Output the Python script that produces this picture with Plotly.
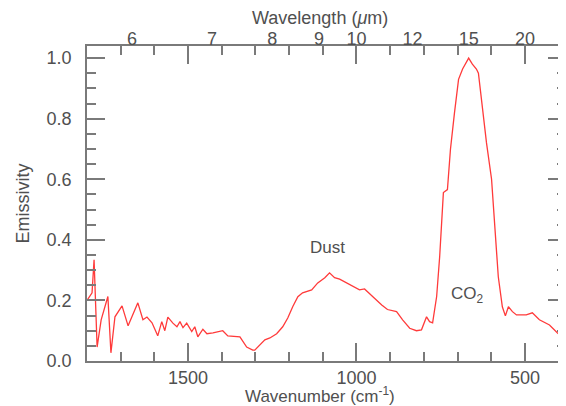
import plotly.graph_objects as go

# Wavenumber (cm^-1) and emissivity
wavenumber = [1800, 1785, 1779, 1770, 1758, 1738, 1729, 1717, 1696, 1678, 1649, 1634, 1622, 1607,
              1590, 1578, 1569, 1560, 1545, 1533, 1524, 1515, 1504, 1489, 1480, 1471, 1456, 1444,
              1426, 1412, 1397, 1382, 1361, 1346, 1326, 1308, 1302, 1287, 1272, 1257, 1237, 1219,
              1204, 1189, 1174, 1160, 1133, 1115, 1094, 1080, 1065, 1050, 1020, 991, 976, 952,
              925, 908, 881, 863, 842, 822, 807, 792, 783, 774, 762, 753, 742, 730, 721, 709,
              697, 685, 676, 667, 656, 644, 638, 626, 614, 599, 590, 579, 567, 558, 549, 537,
              525, 496, 478, 457, 427, 404, 380]
emissivity = [0.200, 0.225, 0.334, 0.046, 0.136, 0.213, 0.027, 0.146, 0.182, 0.116, 0.192, 0.136,
              0.145, 0.126, 0.083, 0.130, 0.100, 0.145, 0.125, 0.113, 0.130, 0.110, 0.125, 0.097,
              0.113, 0.080, 0.105, 0.090, 0.093, 0.097, 0.100, 0.083, 0.080, 0.080, 0.046, 0.036,
              0.036, 0.053, 0.070, 0.076, 0.090, 0.113, 0.142, 0.180, 0.212, 0.225, 0.235, 0.258,
              0.275, 0.291, 0.275, 0.270, 0.252, 0.235, 0.238, 0.212, 0.185, 0.170, 0.163, 0.136,
              0.108, 0.100, 0.103, 0.146, 0.130, 0.126, 0.213, 0.345, 0.556, 0.566, 0.699, 0.820,
              0.930, 0.964, 0.980, 1.000, 0.980, 0.964, 0.950, 0.830, 0.720, 0.600, 0.444, 0.278,
              0.179, 0.149, 0.179, 0.163, 0.152, 0.152, 0.159, 0.136, 0.119, 0.093, 0.070]

wavelength_ticks = [6, 7, 8, 9, 10, 12, 15, 20]
wavelength_labels = [str(w) for w in wavelength_ticks]

emis_ticks = [0, 0.2, 0.4, 0.6, 0.8, 1.0]
emis_labels = ["0.0", "0.2", "0.4", "0.6", "0.8", "1.0"]

labels = ["Dust", "CO<sub>2</sub>"]
label_x = [1085, 670]
label_y = [0.376, 0.218]

x_range = [1800, 378]
y_range = [0, 1.04]

text_color = "#505050"
axis_color = "#7a7a7a"
font = dict(family="Liberation Sans, Arial, sans-serif", size=18, color=text_color)

fig = go.Figure()
fig.add_trace(go.Scatter(x=wavenumber, y=emissivity, mode="lines",
                         line=dict(color="#ff3a3a", width=1.3), showlegend=False,
                         hoverinfo="x+y"))
# invisible trace to activate the top (wavelength) axis
fig.add_trace(go.Scatter(x=[x_range[0]], y=[0], xaxis="x2", mode="markers",
                         marker=dict(opacity=0), showlegend=False, hoverinfo="skip"))

for t, x, y in zip(labels, label_x, label_y):
    fig.add_annotation(x=x, y=y, text=t, showarrow=False, font=dict(size=17, color=text_color))

# axis titles
fig.add_annotation(xref="paper", yref="paper", x=0.486, y=1, yshift=28, text="Wavelength (<i>μ</i>m)",
                   showarrow=False, xanchor="center", yanchor="middle", font=dict(size=18, color=text_color))
fig.add_annotation(xref="paper", yref="paper", x=0.486, y=0, yshift=-34, text="Wavenumber (cm<sup>-1</sup>)",
                   showarrow=False, xanchor="center", yanchor="middle", font=dict(size=17, color=text_color))
fig.add_annotation(xref="paper", yref="paper", x=0, xshift=-65, y=0.5, text="Emissivity", textangle=-90,
                   showarrow=False, xanchor="center", yanchor="middle", font=dict(size=18, color=text_color))

# page body has an 8px default margin, so the figure is 8px smaller than the window
fig.update_layout(
    width=558, height=398,
    margin=dict(l=79, r=0, t=38, b=45),
    paper_bgcolor="white", plot_bgcolor="white",
    font=font,
    xaxis=dict(range=x_range, tickmode="array", tickvals=[1500, 1000, 500], automargin=False,
               ticks="inside", ticklen=18, tickwidth=1.5, tickcolor=axis_color,
               minor=dict(tickmode="linear", tick0=0, dtick=100, ticks="inside", ticklen=9,
                          tickwidth=1.5, tickcolor=axis_color, showgrid=False),
               showline=True, linecolor=axis_color, linewidth=1.5, mirror="ticks",
               showgrid=False, zeroline=False),
    xaxis2=dict(range=x_range, overlaying="x", side="top", tickmode="array", automargin=False,
                anchor="free", position=0.992,
                tickvals=[10000 / w for w in wavelength_ticks], ticktext=wavelength_labels,
                ticks="", showline=False, showgrid=False, zeroline=False),
    yaxis=dict(range=y_range, tickmode="array", tickvals=emis_ticks, automargin=False,
               ticktext=[s + "\u2007" for s in emis_labels],
               ticks="inside", ticklen=18, tickwidth=1.5, tickcolor=axis_color,
               minor=dict(tickmode="linear", tick0=0, dtick=0.05, ticks="inside", ticklen=9,
                          tickwidth=1.5, tickcolor=axis_color, showgrid=False),
               showline=True, linecolor=axis_color, linewidth=1.5, mirror="ticks",
               showgrid=False, zeroline=False),
)

fig.write_html("out.html")
